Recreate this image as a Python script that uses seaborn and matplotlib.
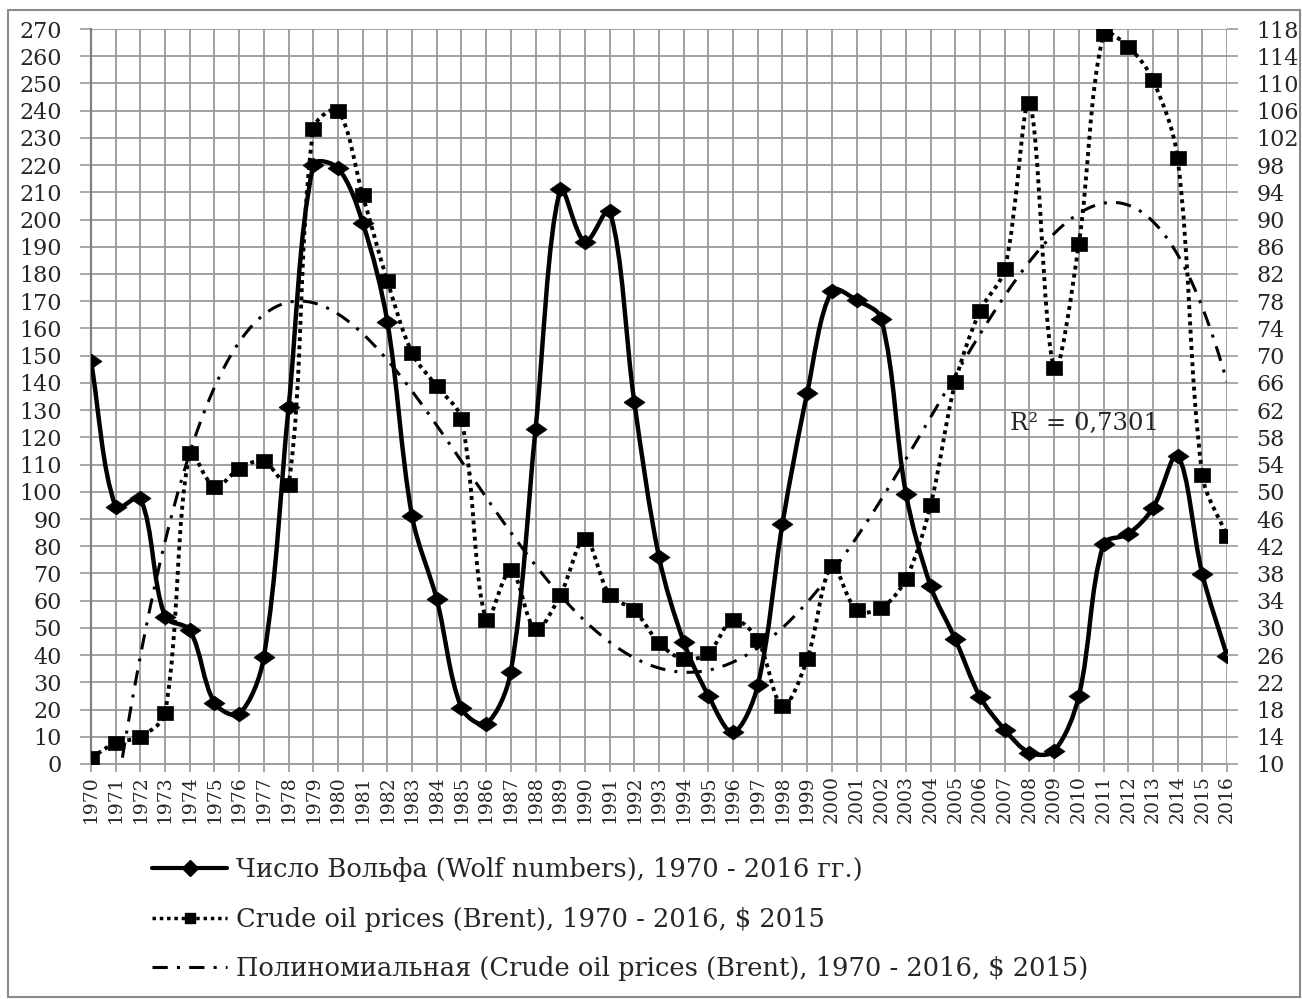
import numpy as np
import pandas as pd
import matplotlib
matplotlib.use("Agg")
import matplotlib.pyplot as plt
import seaborn as sns
from matplotlib.path import Path
from matplotlib.patches import PathPatch, Rectangle
from matplotlib.lines import Line2D

# data
years = list(range(1970, 2017))
wolf = [148, 94.4, 97.6, 54.1, 49.2, 22.5, 18.4, 39.3, 131, 220.1,
        218.9, 198.9, 162.4, 91, 60.5, 20.6, 14.8, 33.9, 123, 211.1,
        191.8, 203.3, 133, 76.1, 44.9, 25.1, 11.6, 28.9, 88.3, 136.3,
        173.9, 170.4, 163.6, 99.3, 65.3, 45.8, 24.7, 12.6, 4.2, 4.8,
        24.9, 80.8, 84.5, 94, 113.3, 69.8, 39.8]
oil = [10.9, 13.1, 14.0, 17.5, 55.7, 50.7, 53.4, 54.5, 51.0, 103.3,
       106.0, 93.6, 81.0, 70.4, 65.5, 60.7, 31.2, 38.5, 29.8, 34.8,
       43.1, 34.8, 32.6, 27.8, 25.4, 26.3, 31.2, 28.2, 18.5, 25.4,
       39.1, 32.6, 32.9, 37.2, 48.1, 66.1, 76.6, 82.7, 107.1, 68.2,
       86.4, 117.2, 115.4, 110.5, 99.0, 52.5, 43.5]

lbl_wolf = "Число Вольфа (Wolf numbers), 1970 - 2016 гг.)"
lbl_oil = "Crude oil prices (Brent), 1970 - 2016, $ 2015"
lbl_trend = "Полиномиальная (Crude oil prices (Brent), 1970 - 2016, $ 2015)"
r2_text = "R² = 0,7301"

df = pd.DataFrame({"year": years, "wolf": wolf, "oil": oil})
df["idx"] = np.arange(len(df))

sns.set_style("white")
plt.rcParams["font.family"] = ["DejaVu Serif", "Liberation Serif"]

GRID = "#9a9a9a"


def smooth_path(a, x, y):
    # excel-like smoothed line, control points sized by neighbouring
    # segment lengths on screen so short segments don't overshoot
    pts = a.transData.transform(np.column_stack([x, y]).astype(float))
    n = len(pts)
    verts = [pts[0]]
    codes = [Path.MOVETO]
    for i in range(n - 1):
        p0 = pts[i - 1] if i > 0 else pts[i]
        p1, p2 = pts[i], pts[i + 1]
        p3 = pts[i + 2] if i + 2 < n else pts[i + 1]
        d01 = np.hypot(*(p1 - p0))
        d12 = np.hypot(*(p2 - p1))
        d23 = np.hypot(*(p3 - p2))
        k1 = d12 / (d01 + d12) / 3 if d01 + d12 > 0 else 0
        k2 = d12 / (d12 + d23) / 3 if d12 + d23 > 0 else 0
        c1 = p1 + (p2 - p0) * k1
        c2 = p2 - (p3 - p1) * k2
        verts += [c1, c2, p2]
        codes += [Path.CURVE4] * 3
    verts = a.transData.inverted().transform(np.array(verts))
    return Path(verts, codes)


fig = plt.figure(figsize=(13.02, 9.99), dpi=100)
ax = fig.add_axes([91 / 1302, 1 - 764 / 999, (1227 - 91) / 1302, (764 - 29) / 999])
ax2 = ax.twinx()

ax.set_xlim(0, len(df) - 1)
ax.set_ylim(0, 270)
ax2.set_ylim(10, 118)

# 4th degree polynomial trend of oil prices (as in the source chart)
coef = np.polyfit(df["idx"], df["oil"], 4)
xx = np.linspace(0, len(df) - 1, 500)
trend = pd.DataFrame({"x": xx, "y": np.polyval(coef, xx)})
sns.lineplot(data=trend, x="x", y="y", ax=ax2, color="black", lw=2.2,
             linestyle=(0, (5, 3, 1, 3)), zorder=2)

# wolf numbers on left axis
ax.add_patch(PathPatch(smooth_path(ax, df["idx"], df["wolf"]), fill=False,
                       edgecolor="black", lw=3.2, zorder=3))
diamond = [(-1, 0), (0, 0.7), (1, 0), (0, -0.7), (-1, 0)]
sns.scatterplot(data=df, x="idx", y="wolf", ax=ax, marker=diamond, s=230,
                color="black", edgecolor="black", linewidth=0.5, zorder=4)

# oil prices on right axis
ax2.add_patch(PathPatch(smooth_path(ax2, df["idx"], df["oil"]), fill=False,
                        edgecolor="black", lw=2.8, linestyle=(0, (1, 1.1)),
                        zorder=3))
square = [(-1, -0.85), (1, -0.85), (1, 0.85), (-1, 0.85), (-1, -0.85)]
sns.scatterplot(data=df, x="idx", y="oil", ax=ax2, marker=square, s=130,
                color="black", edgecolor="black", linewidth=0.5, zorder=4)

ax.set_xlim(0, len(df) - 1)
ax.set_ylim(0, 270)
ax2.set_ylim(10, 118)
ax.set_yticks(range(0, 271, 10))
ax2.set_yticks(range(10, 119, 4))
ax.set_xticks(df["idx"])
ax.set_xticklabels(df["year"], rotation=90)

ax.grid(True, color=GRID, lw=1.3)
ax2.grid(False)
ax.set_axisbelow(True)
for a in (ax, ax2):
    a.set_xlabel("")
    a.set_ylabel("")
    for s in a.spines.values():
        s.set_visible(False)
ax.spines["left"].set_visible(True)
ax.spines["left"].set_color("#808080")
ax.spines["left"].set_linewidth(1.6)
ax.spines["bottom"].set_visible(True)
ax.spines["bottom"].set_color(GRID)
ax.spines["bottom"].set_linewidth(1.3)

ax.tick_params(axis="y", direction="out", length=8, width=1.2, color=GRID,
               labelsize=16, pad=13, left=True)
ax.tick_params(axis="x", direction="out", length=6, width=1.2, color=GRID,
               labelsize=13.5, pad=2, bottom=True)
ax2.tick_params(axis="y", direction="out", length=8, width=1.2, color=GRID,
                labelsize=16, pad=13, right=True)

ax.text(37.2, 125, r2_text, fontsize=17.5, va="center", ha="left")

handles = [
    Line2D([], [], color="black", lw=3, marker="D", markersize=8),
    Line2D([], [], color="black", lw=2.5, linestyle=(0, (1, 1.1)),
           marker="s", markersize=7),
    Line2D([], [], color="black", lw=2.2, linestyle=(0, (5, 3, 1, 3))),
]
fig.legend(handles, [lbl_wolf, lbl_oil, lbl_trend], loc="upper left",
           bbox_to_anchor=(142 / 1302, 1 - 847 / 999), frameon=False,
           fontsize=18.5, handlelength=2.9, handletextpad=0.35,
           labelspacing=0.95, borderaxespad=0)

fig.patches.append(Rectangle((8 / 1302, 2 / 999), 1292 / 1302, 987 / 999,
                             transform=fig.transFigure, fill=False,
                             edgecolor="#8a8a8a", lw=1.5))

fig.savefig("out.png", dpi=100)
